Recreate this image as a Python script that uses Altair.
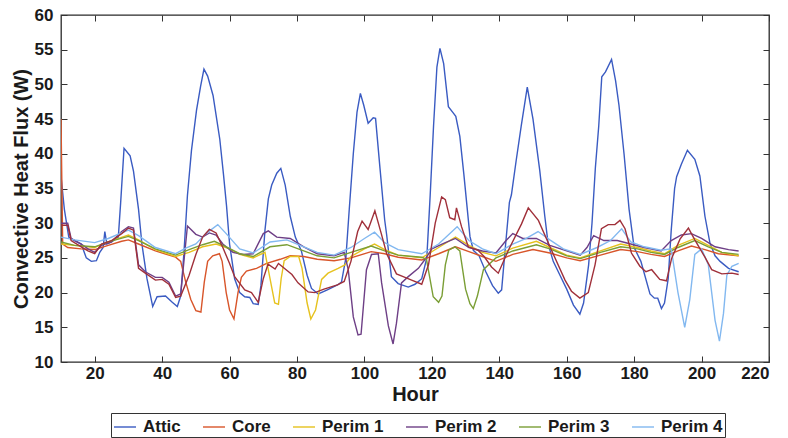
import altair as alt
import pandas as pd

series_names = ["Attic", "Core", "Perim 1", "Perim 2", "Perim 3", "Perim 4", "Plenum"]
legend_names = ["Attic", "Core", "Perim 1", "Perim 2", "Perim 3", "Perim 4"]
series_colors = ["#3a5bc2", "#d8552a", "#e6c21e", "#6e3f86", "#7a9e35", "#82b8f0", "#a0303a"]

x_ticks = [20, 40, 60, 80, 100, 120, 140, 160, 180, 200, 220]
y_ticks = [10, 15, 20, 25, 30, 35, 40, 45, 50, 55, 60]

attic_h = [10, 11, 12.3, 14, 16, 17.5, 19, 20.5, 21.5, 22.5, 23, 23.6, 25, 27, 27.7, 28.7, 30.5, 31.5, 33, 34,
           35.5, 37.2, 38.5, 41, 43, 44.5, 45.5, 46.5, 47.5, 48.7, 50.2, 51.4, 52.4, 53.5, 55.1, 57.1, 58.2, 59.1,
           60, 61.5, 63, 64.5, 66, 67, 68.5, 69.3, 70.5, 71.5, 72.5, 74, 75.2, 76.5, 78, 79.5, 81.3, 83, 84.3, 86.3,
           89, 92, 93.2, 94.5, 95.5, 96.7, 97.8, 98.8, 99.8, 101.1, 102.6, 103.3, 104.6, 106, 106.6, 108, 110, 113,
           115, 117, 118.5, 119.5, 120.5, 121.5, 122.4, 123.5, 124.9, 126.5, 127.1, 128.3, 129.5, 131.3, 132.3, 134,
           136, 138, 139.7, 140.7, 141.7, 143, 143.6, 145, 146.5, 148.3, 150, 152, 153.5, 154.5, 156, 158, 160, 162,
           163.9, 165, 166.5, 167.5, 168.5, 169.5, 170.4, 171.5, 173.3, 174.5, 175.5, 177, 178.5, 180, 182, 184.7,
           186, 187, 188.1, 189, 190.1, 191, 192, 192.6, 194, 195.8, 198, 199.5, 201, 202.5, 204, 205.5, 208, 211]
attic_v = [36.8, 32, 28, 27.5, 27, 25, 24.5, 24.6, 25.8, 26.5, 28.8, 27, 27.3, 28, 33, 40.8, 39.7, 37.5, 32, 27,
           22, 18, 19.4, 19.5, 18.6, 18, 19.5, 26, 34, 40.5, 46.3, 49.7, 52.2, 51.2, 48.4, 42.1, 37, 32.5,
           27, 22, 20, 19.4, 19.3, 18.4, 18.3, 21, 29, 33.5, 35.5, 37.2, 37.9, 35.5, 31, 28, 26, 22.5, 20.6, 19.8,
           20.4, 21.1, 21.5, 25, 32, 40, 46, 48.7, 47, 44.4, 45.2, 45.1, 38, 30.5, 28.3, 22.3, 21.3, 20.8,
           21.2, 22, 25, 34, 44, 52.5, 55.2, 53, 46.8, 45.8, 45.4, 42.5, 37, 28.1, 26.1, 25.3,
           23, 21, 19.9, 20.4, 26, 33, 34.1, 39, 44, 49.6, 45, 37.6, 31, 27, 24.5, 22.5, 20.5, 18.2,
           16.9, 18.5, 24, 30, 38, 44, 51.1, 51.8, 53.6, 50.5, 47, 40, 32, 26.5, 24.5, 19.8,
           19.2, 19.2, 17.7, 18.5, 22, 29, 35, 36.7, 38.5, 40.5, 39.2, 36.8, 31, 27.1, 25.3, 24.5, 23.5, 23.0]

core_h = [10, 10.5, 12, 16, 20, 24, 28, 30, 33, 38, 44, 45.5, 47, 48.5, 50, 51.5, 52.5, 53.5, 55, 57, 57.8, 59,
          60, 61.3, 62.5, 63.5, 65, 68, 71, 75, 78, 82, 86, 91, 96, 102, 106, 110, 117, 122, 127, 131, 135, 139,
          144, 150, 155, 160, 164, 170, 176, 181, 185, 189, 193, 197, 201, 205, 211]
core_v = [45, 27, 26.5, 26.3, 26.2, 26.8, 27.4, 27.6, 27.0, 26.0, 25.1, 24.5, 21.5, 19, 17.4, 17.2, 21.5, 24.5,
          25.3, 25.6, 24.5, 20, 17.5, 16.2, 20, 22.2, 23.1, 23.5, 24.2, 24.8, 25.3, 25.2, 24.8, 24.6, 25.0, 25.9,
          25.6, 25.1, 24.7, 25.6, 26.6, 25.9, 25.2, 24.5, 25.5, 26.2, 25.7, 25.0, 24.6, 25.4, 26.2, 25.9, 25.5,
          25.2, 26.0, 26.7, 26.2, 25.6, 25.3]

perim1_h = [10, 14, 20, 24, 30, 33, 38, 44, 48, 52, 56, 60, 63, 67, 70.5, 72, 73.4, 74.5, 75.3, 76.2, 78, 80.5,
            81.5, 83, 84.1, 85.5, 87.3, 89.2, 92.2, 94.2, 96, 100, 103, 106, 110, 117, 122, 127, 131, 135, 139,
            144, 151, 155, 160, 164, 170, 176, 181, 185, 189, 193, 198, 202, 206, 211]
perim1_v = [27.0, 26.8, 26.5, 27.3, 28.3, 27.6, 26.2, 25.2, 25.8, 26.6, 27.0, 26.3, 25.5, 25.0, 25.8, 22, 18.5,
            18.3, 22, 24.6, 25.2, 25.2, 23.5, 18.5, 16.2, 17.5, 21.9, 22.8, 23.5, 24.0, 25.2, 26.3, 27.0, 26.2,
            25.4, 25.0, 26.5, 28.0, 26.8, 25.8, 25.3, 26.4, 27.4, 26.5, 25.4, 25.0, 26.0, 27.0, 26.5, 26.0, 25.6,
            26.8, 27.8, 26.8, 25.8, 25.3]

perim2_h = [10, 12, 13, 16, 18, 20, 22, 25, 28, 30, 31.5, 33, 35, 38, 40, 42, 44, 45.5, 47.5, 50, 52, 54, 56, 58,
            61, 64, 67, 70, 71.5, 74, 78, 82, 86, 91, 94, 95.2, 96.7, 98.1, 99, 99.6, 100.6, 102.1, 104.1, 105.1,
            107.1, 108.5, 109.5, 111, 113, 116, 118, 120, 124, 127, 131, 135, 139, 142, 144, 147, 151, 155, 160,
            164, 166, 168, 171, 175, 179, 183, 188, 191, 194, 197, 200, 204, 208, 211]
perim2_v = [30, 30, 27.8, 27, 26.3, 25.8, 26.8, 27.3, 28.8, 29.5, 29.3, 24, 23, 22.2, 22.2, 21.5, 19.5, 19.8,
            29.6, 28.4, 28.0, 28.6, 28.3, 27.0, 25.8, 25.5, 25.6, 28.5, 28.9, 28.0, 27.8, 26.6, 25.6, 25.3, 25.8,
            23.3, 16.5, 13.9, 14.0, 17.5, 23.3, 25.5, 25.6, 21.4, 15.2, 12.6, 15.6, 21.4, 22.3, 23.5, 24.8, 26.3,
            27.2, 27.8, 26.5, 26.0, 25.7, 27.5, 28.5, 27.8, 27.8, 26.8, 26.0, 25.4, 26.5, 28.2, 27.5, 27.5, 27.0,
            26.5, 26.0, 27.5, 28.3, 28.5, 27.8, 26.6, 26.2, 26.0]

perim3_h = [10, 14, 20, 24, 30, 33, 38, 44, 48, 52, 55.5, 59, 63, 67, 72, 77, 82, 86, 91, 96, 102, 106, 110, 117,
            118.4, 120.4, 122, 123, 124, 125, 126.8, 128.3, 130, 131.3, 132.3, 133.5, 135.3, 137.2, 139, 144, 151,
            155, 160, 164, 170, 176, 181, 185, 189, 193, 198, 202, 206, 211]
perim3_v = [27.3, 26.8, 26.6, 27.3, 28.1, 27.5, 26.3, 25.4, 26.2, 26.9, 27.4, 26.6, 25.6, 25.2, 26.6, 26.9, 26.0,
            25.3, 25.0, 25.8, 26.7, 26.0, 25.4, 25.1, 24.8, 19.4, 18.6, 19.5, 24, 26.1, 26.6, 26.0, 20.5, 18.4,
            17.7, 19.5, 23.3, 24.2, 25.0, 26.0, 26.9, 26.3, 25.3, 24.9, 25.8, 26.6, 26.3, 25.8, 25.5, 26.5, 27.5,
            26.6, 25.8, 25.5]

perim4_h = [10, 14, 20, 24, 30, 33, 38, 44, 47, 50, 53, 56.5, 59, 63, 67, 72, 77, 82, 86, 91, 96, 100, 103, 106,
            110, 117, 122, 127.5, 131, 135, 139, 144, 148, 151.5, 155, 159, 164, 169, 173, 176.3, 179, 183, 188,
            191, 193, 195, 196.5, 198, 200, 202, 204, 205.3, 206.5, 207.5, 209, 211]
perim4_v = [28.0, 27.6, 27.2, 27.8, 29.0, 28.2, 26.5, 25.6, 26.4, 27.0, 28.5, 29.8, 28.5, 26.3, 25.7, 27.3, 27.6,
            26.6, 25.8, 25.4, 26.5, 27.8, 28.7, 27.2, 26.2, 25.6, 27.0, 29.5, 27.5, 26.3, 25.6, 27.0, 27.8, 28.8,
            27.6, 26.3, 25.5, 26.5, 27.5, 29.2, 27.3, 26.6, 26.1, 26.3, 20, 15.0, 19, 25.5, 26.3, 24, 16, 13.0, 17,
            22.5, 23.8, 24.2]

plenum_h = [10, 12, 13, 16, 18, 20, 22, 25, 28, 30, 31.5, 33, 35, 38, 40, 42, 44, 45.5, 48, 50, 52, 54, 56, 58,
            60, 61.5, 64.5, 66.5, 68.5, 70, 71.4, 73.5, 74.5, 76.5, 78.5, 80.3, 83.3, 85.3, 88, 92, 94, 96, 98,
            99.3, 101.1, 103.1, 105, 106.6, 109.5, 111.5, 114, 117, 119, 121, 122.9, 124, 125.3, 126.8, 127.3,
            128.8, 130.8, 133.7, 135.5, 137.7, 139.7, 142.7, 146.6, 148.6, 151.6, 155.5, 159.5, 161.4, 163.9,
            166.4, 168.4, 170.3, 172.3, 174.3, 175.8, 177.3, 179.2, 181.7, 183.5, 185.2, 187.6, 189.6, 191.1,
            193.6, 196.1, 198, 201, 203, 206, 209, 211]
plenum_v = [29.7, 29.7, 27.5, 26.6, 26, 25.6, 27, 27.5, 28.5, 29.3, 29.0, 23.5, 22.8, 21.8, 21.9, 21.2, 19.3, 19.5,
            22.5, 25.5, 28, 29.1, 28.6, 26.5, 24.2, 22.3, 20.4, 20.0, 18.6, 22, 24.1, 23.4, 24.2, 23.4, 22.6, 21.4,
            20.1, 20.0, 20.5, 21.1, 21.6, 24.5, 28.8, 30.3, 29.1, 31.8, 28.5, 25.6, 22.7, 22.3, 21.8, 21.2, 24, 30,
            33.8, 33.4, 30.8, 30.5, 32.2, 29.5, 26.6, 26.1, 25.2, 23.7, 22.8, 26.1, 29.9, 32.2, 30.4, 26.1, 21.8,
            20.2, 19.2, 20, 24, 29.2, 29.8, 29.8, 30.4, 29.2, 25.7, 23.8, 23, 23.3, 21.9, 21.7, 24.9, 27.7, 29.3,
            27.6, 25.1, 23.3, 22.7, 22.8, 22.6]

all_series = [
    ("Attic", attic_h, attic_v),
    ("Core", core_h, core_v),
    ("Perim 1", perim1_h, perim1_v),
    ("Perim 2", perim2_h, perim2_v),
    ("Perim 3", perim3_h, perim3_v),
    ("Perim 4", perim4_h, perim4_v),
    ("Plenum", plenum_h, plenum_v),
]

rows = []
for name, hs, vs in all_series:
    assert len(hs) == len(vs), (name, len(hs), len(vs))
    for i, (h, v) in enumerate(zip(hs, vs)):
        rows.append({"series": name, "hour": h, "flux": v, "idx": i})
df = pd.DataFrame(rows)

FONT = "Liberation Sans"
x_scale = alt.Scale(domain=[10, 220], nice=False, zero=False)
y_scale = alt.Scale(domain=[10, 60], nice=False, zero=False)

lines = alt.Chart(df).mark_line(strokeWidth=1.4, clip=True).encode(
    x=alt.X("hour:Q", scale=x_scale,
            axis=alt.Axis(orient="bottom", values=x_ticks, title="Hour", offset=-6, tickSize=6,
                          domain=False, grid=False, tickColor="#333", labelPadding=3,
                          labelFont=FONT, labelFontWeight="bold", labelFontSize=17, labelColor="#1a1a1a",
                          titleFont=FONT, titleFontWeight="bold", titleFontSize=20, titleColor="#1a1a1a",
                          titlePadding=3)),
    y=alt.Y("flux:Q", scale=y_scale,
            axis=alt.Axis(orient="left", values=y_ticks, title="Convective Heat Flux (W)", offset=-6,
                          tickSize=6, domain=False, grid=False, tickColor="#333", labelPadding=8,
                          labelFont=FONT, labelFontWeight="bold", labelFontSize=17, labelColor="#1a1a1a",
                          titleFont=FONT, titleFontWeight="bold", titleFontSize=20, titleColor="#1a1a1a",
                          titlePadding=3)),
    color=alt.Color("series:N",
                    scale=alt.Scale(domain=series_names, range=series_colors),
                    legend=alt.Legend(values=legend_names, title=None, orient="none", legendX=50,
                                      legendY=398, direction="horizontal", symbolType="stroke",
                                      symbolSize=484, symbolStrokeWidth=1.4, labelFont=FONT,
                                      labelFontWeight="bold", labelFontSize=17, labelColor="#1a1a1a",
                                      strokeColor="#333", fillColor="white", padding=2,
                                      columnPadding=19, labelOffset=6)),
    order="idx:Q",
)

frame = alt.Chart(df).mark_line(opacity=0).encode(
    x=alt.X("hour:Q", scale=x_scale,
            axis=alt.Axis(orient="top", values=x_ticks, labels=False, title=None, offset=-6, tickSize=6,
                          domain=False, grid=False, tickColor="#333")),
    y=alt.Y("flux:Q", scale=y_scale,
            axis=alt.Axis(orient="right", values=y_ticks, labels=False, title=None, offset=-6, tickSize=6,
                          domain=False, grid=False, tickColor="#333")),
    detail="series:N",
)

chart = alt.layer(lines, frame).resolve_axis(x="independent", y="independent").properties(
    width=708, height=347, autosize="none",
    padding={"left": 61, "top": 15, "right": 19, "bottom": 76},
    background="white",
).configure_view(stroke="#2a2a2a", strokeWidth=1.3)

chart.save("out.html", embed_options={"renderer": "svg", "actions": False})
